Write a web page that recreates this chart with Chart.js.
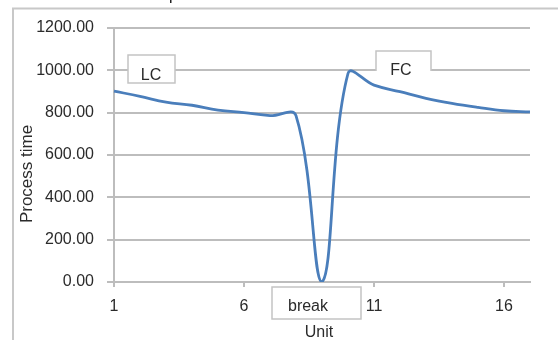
<!DOCTYPE html>
<html>
<head>
<meta charset="utf-8">
<script src="https://cdn.jsdelivr.net/npm/chart.js@4.4.1/dist/chart.umd.min.js"></script>
<style>
html,body{margin:0;padding:0;background:#fff;}
#wrap{position:relative;width:558px;height:340px;}
canvas{display:block;}
</style>
</head>
<body>
<div id="wrap"><canvas id="c" width="558" height="340"></canvas></div>
<script>
const categories = ['1','2','3','4','5','6','7','8','9','10','11','12','13','14','15','16','17'];
const processTime = [902, 877, 850, 835, 812, 800, 786, 786, 0, 985, 930, 899, 868, 844, 825, 809, 804];
const shownXLabels = ['1','6','11','16'];
const yTicks = [0, 200, 400, 600, 800, 1000, 1200];
const xTitle = 'Unit';
const yTitle = 'Process time';
const annotations = [
  {text:'LC', box:[128,55,47,28], tx:151, ty:76, bottom:true},
  {text:'FC', box:[376,51,55,20], tx:401, ty:71, bottom:false},
  {text:'break', box:[272,287,89,32], tx:308, ty:307, bottom:true}
];

const FONT = '"Liberation Sans", Arial, sans-serif';
const TXT = '#2b2b2b';
const GRID = '#bdbdbd';

const decor = {
  id:'decor',
  beforeDraw(chart){
    const ctx = chart.ctx;
    ctx.save();
    ctx.fillStyle='#fff';
    ctx.fillRect(0,0,558,340);
    ctx.strokeStyle='#c8c8c8';
    ctx.lineWidth=2;
    ctx.beginPath();
    ctx.moveTo(13,340);ctx.lineTo(13,8.5);ctx.lineTo(558,8.5);
    ctx.stroke();
    ctx.fillStyle='#222';
    ctx.fillRect(170,0,1.5,3);
    ctx.restore();
  },
  afterDraw(chart){
    const ctx = chart.ctx;
    ctx.save();
    annotations.forEach(a=>{
      const [x,y,w,h]=a.box;
      ctx.fillStyle='#fff';
      ctx.fillRect(x,y,w,h);
      ctx.strokeStyle='#c4c4c4';
      ctx.lineWidth=1.5;
      ctx.beginPath();
      if(a.bottom){
        ctx.rect(x,y,w,h);
      } else {
        ctx.moveTo(x,y+h);ctx.lineTo(x,y);ctx.lineTo(x+w,y);ctx.lineTo(x+w,y+h);
      }
      ctx.stroke();
      ctx.fillStyle=TXT;
      ctx.font='16px '+FONT;
      ctx.textAlign='center';
      ctx.textBaseline='middle';
      ctx.fillText(a.text,a.tx,a.ty);
    });
    ctx.fillStyle=TXT;
    ctx.font='16px '+FONT;
    ctx.textAlign='center';
    ctx.textBaseline='middle';
    ctx.fillText(xTitle,319,333);
    ctx.translate(27,174);
    ctx.rotate(-Math.PI/2);
    ctx.font='17px '+FONT;
    ctx.fillText(yTitle,0,0);
    ctx.restore();
  }
};

new Chart(document.getElementById('c'),{
  type:'line',
  data:{labels:categories,datasets:[{
    data:processTime,
    borderColor:'#4a7ebb',
    borderWidth:2.8,
    pointRadius:0,
    tension:0.4,
    fill:false
  }]},
  options:{
    responsive:false,
    animation:false,
    events:[],
    layout:{padding:{left:0,top:28,right:28,bottom:0}},
    plugins:{legend:{display:false},tooltip:{enabled:false},title:{display:false}},
    scales:{
      x:{
        type:'category',
        offset:false,
        afterFit(s){s.height=58;},
        border:{display:true,color:GRID,width:2},
        grid:{
          drawOnChartArea:false,
          drawTicks:true,
          tickLength:5,
          color:(c)=> shownXLabels.includes(categories[c.index]) ? GRID : 'rgba(0,0,0,0)',
          lineWidth:2
        },
        ticks:{
          autoSkip:false,
          maxRotation:0,
          padding:10,
          color:TXT,
          font:{family:FONT,size:16},
          callback(v,i){const l=categories[i];return shownXLabels.includes(l)?l:'';}
        }
      },
      y:{
        min:0,max:1200,
        afterFit(s){s.width=114;},
        afterBuildTicks(s){s.ticks=yTicks.map(v=>({value:v}));},
        border:{display:true,color:GRID,width:2},
        grid:{color:GRID,lineWidth:2,tickLength:7},
        ticks:{
          padding:13,
          color:TXT,
          font:{family:FONT,size:16},
          callback:(v)=>Number(v).toFixed(2)
        }
      }
    }
  },
  plugins:[decor]
});
</script>
</body>
</html>
